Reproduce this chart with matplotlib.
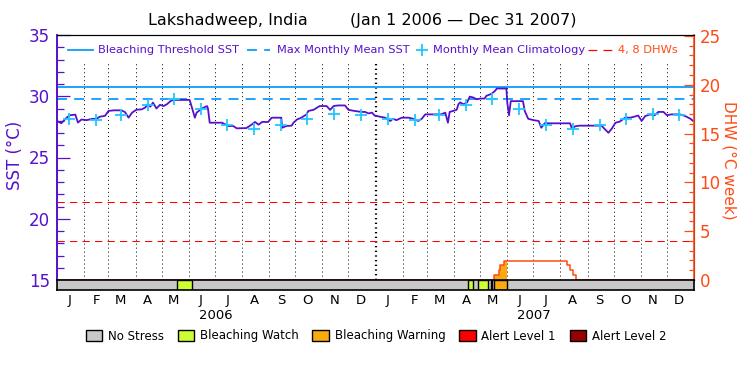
import numpy as np
import pandas as pd
import matplotlib
matplotlib.use('Agg')
import matplotlib.pyplot as plt
import matplotlib.dates as mdates
from matplotlib.patches import Patch
from matplotlib.ticker import MultipleLocator, FuncFormatter
from matplotlib.transforms import blended_transform_factory

start = pd.Timestamp('2006-01-01')
end = pd.Timestamp('2008-01-01')

# SST: days since 2006-01-01 and deg C
sst_day = [0, 5, 11, 15, 21, 24, 28, 34, 40, 45, 49, 55, 59, 65, 74, 78, 82, 86, 91, 97,
           101, 104, 107, 110, 114, 118, 122, 126, 130, 133, 152, 154, 158, 160, 166, 172, 173, 175, 189, 193,
           196, 202, 206, 217, 223, 227, 231, 235, 242, 246, 257, 258, 263, 269, 271, 275, 280, 286, 288, 294,
           298, 301, 309, 313, 317, 322, 330, 334, 341, 349, 353, 357, 361, 364, 370, 376, 382, 385, 389, 395,
           403, 408, 414, 418, 422, 440, 445, 448, 450, 454, 458, 460, 462, 466, 470, 473, 477, 481, 485, 490,
           492, 498, 502, 504, 515, 516, 518, 520, 534, 536, 540, 546, 552, 555, 559, 565, 588, 590, 594, 599,
           624, 628, 632, 636, 640, 645, 651, 657, 662, 666, 670, 674, 680, 685, 689, 695, 699, 704, 714, 720,
           726, 729]
sst_val = [27.97, 27.80, 28.25, 28.45, 28.50, 27.85, 28.10, 28.05, 28.15, 28.15, 28.33, 28.40, 28.80, 28.85, 28.85, 28.70, 28.25, 28.66, 28.90, 28.93,
           29.07, 29.34, 29.15, 29.48, 29.00, 29.30, 29.20, 29.35, 29.60, 29.70, 29.70, 29.23, 28.25, 28.66, 29.00, 29.20, 29.00, 27.84, 27.84, 27.70,
           27.57, 27.57, 27.38, 27.40, 27.68, 27.90, 27.68, 27.90, 27.90, 28.25, 28.25, 27.43, 27.57, 27.60, 27.84, 28.10, 28.25, 28.52, 28.80, 28.89,
           29.07, 29.20, 29.20, 28.89, 29.20, 29.25, 29.25, 28.89, 28.80, 28.72, 28.72, 28.60, 28.66, 28.43, 28.33, 28.25, 27.98, 28.16, 28.05, 28.25,
           28.25, 28.16, 27.98, 28.16, 28.52, 28.52, 28.66, 27.84, 28.72, 28.80, 28.89, 29.34, 29.50, 29.34, 29.50, 29.97, 29.90, 29.75, 29.81, 29.81,
           30.03, 30.20, 30.44, 30.63, 30.63, 29.48, 28.44, 29.60, 29.60, 28.80, 28.16, 28.05, 27.98, 27.43, 27.80, 27.79, 27.79, 27.38, 27.55, 27.60,
           27.60, 27.30, 27.02, 27.38, 27.84, 27.93, 28.25, 28.25, 28.34, 28.43, 27.98, 28.38, 28.52, 28.45, 28.72, 28.72, 28.45, 28.52, 28.52, 28.38,
           28.16, 27.98]

# monthly mean climatology (same for both years)
clim_val = [28.11, 28.06, 28.44, 29.26, 29.75, 28.93, 27.65, 27.35, 27.62, 28.11, 28.52, 28.48]
mmm = 29.74
threshold = 30.74
dhw_levels = [4, 8]

# degree heating weeks
dhw_date = ['2006-01-01', '2007-05-17', '2007-05-22', '2007-05-24', '2007-05-28',
            '2007-08-09', '2007-08-12', '2007-08-15', '2007-08-19', '2008-01-01']
dhw_val = [0, 0.5, 1.0, 1.5, 1.95, 1.5, 1.0, 0.5, 0, 0]

# stress periods
stress_start = ['2006-05-19', '2007-04-17', '2007-04-29', '2007-05-13', '2007-05-17']
stress_end = ['2006-06-05', '2007-04-23', '2007-05-10', '2007-05-15', '2007-06-01']
stress_level = [1, 1, 1, 1, 2]

levels = ['No Stress', 'Bleaching Watch', 'Bleaching Warning', 'Alert Level 1', 'Alert Level 2']
level_colors = ['#c8c8c8', '#ccff33', '#fba90d', '#ff0000', '#990000']

purple = '#5511cc'
red_axis = '#ff4a14'
blue = '#0a9cff'
cyan = '#20c8ff'
mmm_dash = (0, (5.5, 4))
dhw_dash = (0, (7, 5))

fig = plt.figure(figsize=(7.5, 3.75), dpi=100)
ax = fig.add_axes([57 / 750, 1 - 280 / 375, 637 / 750, 245 / 375])
ax.set_xlim(start, end)
ax.set_ylim(15, 35)

# month grid
months = pd.date_range('2006-02-01', '2007-12-01', freq='MS')
for m in months:
    if m.month == 1:
        ax.vlines(m, 15, 32.8, color='black', lw=1.6, linestyle=(0, (0.6, 1.5)))
    else:
        ax.vlines(m, 15, 32.8, color='black', lw=0.7, linestyle=(0, (1, 3.1)))

sst_dates = start + pd.to_timedelta(sst_day, unit='D')
ax.axhline(threshold, color=blue, lw=1.3)
ax.axhline(mmm, color=blue, lw=1.3, linestyle=mmm_dash)
ax.plot(sst_dates, sst_val, color=purple, lw=1.3)

clim_dates = [pd.Timestamp(y, m, 15) for y in (2006, 2007) for m in range(1, 13)]
ax.plot(clim_dates, clim_val * 2, ls='none', marker='+', ms=9, mew=1.3, color=cyan, zorder=4)

ax.set_xticks([])
ax.yaxis.set_major_locator(MultipleLocator(5))
ax.yaxis.set_minor_locator(MultipleLocator(1))
ax.tick_params(axis='y', which='major', direction='in', length=9.5, width=0.9, color=purple,
               labelcolor=purple, labelsize=12, pad=5)
ax.tick_params(axis='y', which='minor', direction='in', length=5, width=0.9, color=purple)
ax.spines['left'].set_color(purple)
ax.spines['left'].set_linewidth(1.2)
ax.set_ylabel('SST (°C)', color=purple, fontsize=12)
ax.yaxis.set_label_coords(-0.052, 0.51)

# DHW axis
ax2 = ax.twinx()
ax2.set_ylim(0, 25.1)
for lev in dhw_levels:
    ax2.axhline(lev, color='red', lw=0.75, linestyle=dhw_dash)
dhw_dates = pd.to_datetime(dhw_date)
dhw = pd.Series(dhw_val, index=dhw_dates)
ws, we = pd.Timestamp(stress_start[4]), pd.Timestamp(stress_end[4])
fill_x = [ws] + [d for d in dhw_dates if ws < d < we] + [we]
fill_y = [dhw.asof(d) for d in fill_x]
ax2.fill_between(fill_x, fill_y, step='post', color=level_colors[2], lw=0)
ax2.step(dhw_dates, dhw_val, where='post', color=red_axis, lw=1.1)
ax2.yaxis.set_major_locator(MultipleLocator(5))
ax2.yaxis.set_minor_locator(MultipleLocator(1))
ax2.tick_params(axis='y', which='major', direction='in', length=7, width=0.9, color=red_axis,
                labelcolor=red_axis, labelsize=12, pad=4)
ax2.tick_params(axis='y', which='minor', direction='in', length=3.5, width=0.9, color=red_axis)
ax2.spines['right'].set_color(red_axis)
ax2.spines['right'].set_linewidth(1.2)
ax2.spines['left'].set_color(purple)
ax2.spines['left'].set_linewidth(1.2)
ax2.set_ylabel('DHW (°C week)', color=red_axis, fontsize=11, rotation=270)
ax2.yaxis.set_label_coords(1.067, 0.49)

# legend row inside the plot, laid out in pixels like the original
def fx(px):
    return (px - 57) / 637

ly = (280 - 50) / 245
tr = ax2.transAxes
ax2.plot([fx(68), fx(93)], [ly, ly], color=blue, lw=1.3, transform=tr)
ax2.text(fx(98), ly, 'Bleaching Threshold SST', color=purple, fontsize=8.2, va='center', transform=tr)
ax2.plot([fx(247), fx(270)], [ly, ly], color=blue, lw=1.3, linestyle=mmm_dash, transform=tr)
ax2.text(fx(277), ly, 'Max Monthly Mean SST', color=purple, fontsize=8.2, va='center', transform=tr)
ax2.plot([fx(422)], [ly], ls='none', marker='+', ms=9, mew=1.3, color=cyan, transform=tr)
ax2.text(fx(433), ly, 'Monthly Mean Climatology', color=purple, fontsize=8.2, va='center', transform=tr)
ax2.plot([fx(588), fx(613)], [ly, ly], color='red', lw=0.9, linestyle=dhw_dash, transform=tr)
ax2.text(fx(618), ly, '4, 8 DHWs', color=red_axis, fontsize=8.2, va='center', transform=tr)

# stress bar
axb = fig.add_axes([57 / 750, 1 - 290 / 375, 637 / 750, 10 / 375])
axb.set_xlim(start, end)
axb.set_ylim(0, 1)
axb.set_facecolor(level_colors[0])
for s, e, lv in zip(stress_start, stress_end, stress_level):
    axb.axvspan(pd.Timestamp(s), pd.Timestamp(e), color=level_colors[lv], ec='black', lw=1)
axb.set_yticks([])
axb.xaxis.set_major_locator(mdates.MonthLocator(bymonthday=15))
axb.xaxis.set_major_formatter(FuncFormatter(lambda v, p: mdates.num2date(v).strftime('%b')[0]))
axb.tick_params(axis='x', length=0, pad=3, labelsize=9.5)
for sp in axb.spines.values():
    sp.set_linewidth(1.2)
trans = blended_transform_factory(axb.transData, axb.transAxes)
for yr in (2006, 2007):
    axb.text(pd.Timestamp(yr, 7, 2), -2.5, str(yr), transform=trans, ha='center', va='center', fontsize=9.5)

# stress legend
patches = [Patch(facecolor=c, edgecolor='black', lw=1) for c in level_colors]
fig.legend(patches, levels, ncol=5, loc='center', bbox_to_anchor=(376 / 750, 1 - 336 / 375), frameon=False,
           fontsize=8.5, handlelength=1.4, handleheight=0.95, handletextpad=0.5, columnspacing=1.15)

fig.text(148 / 750, 1 - 20 / 375, 'Lakshadweep, India', fontsize=11.5, va='center', ha='left')
fig.text(350 / 750, 1 - 20 / 375, '(Jan 1 2006 — Dec 31 2007)', fontsize=11.5, va='center', ha='left')

fig.savefig('out.png', dpi=100)
